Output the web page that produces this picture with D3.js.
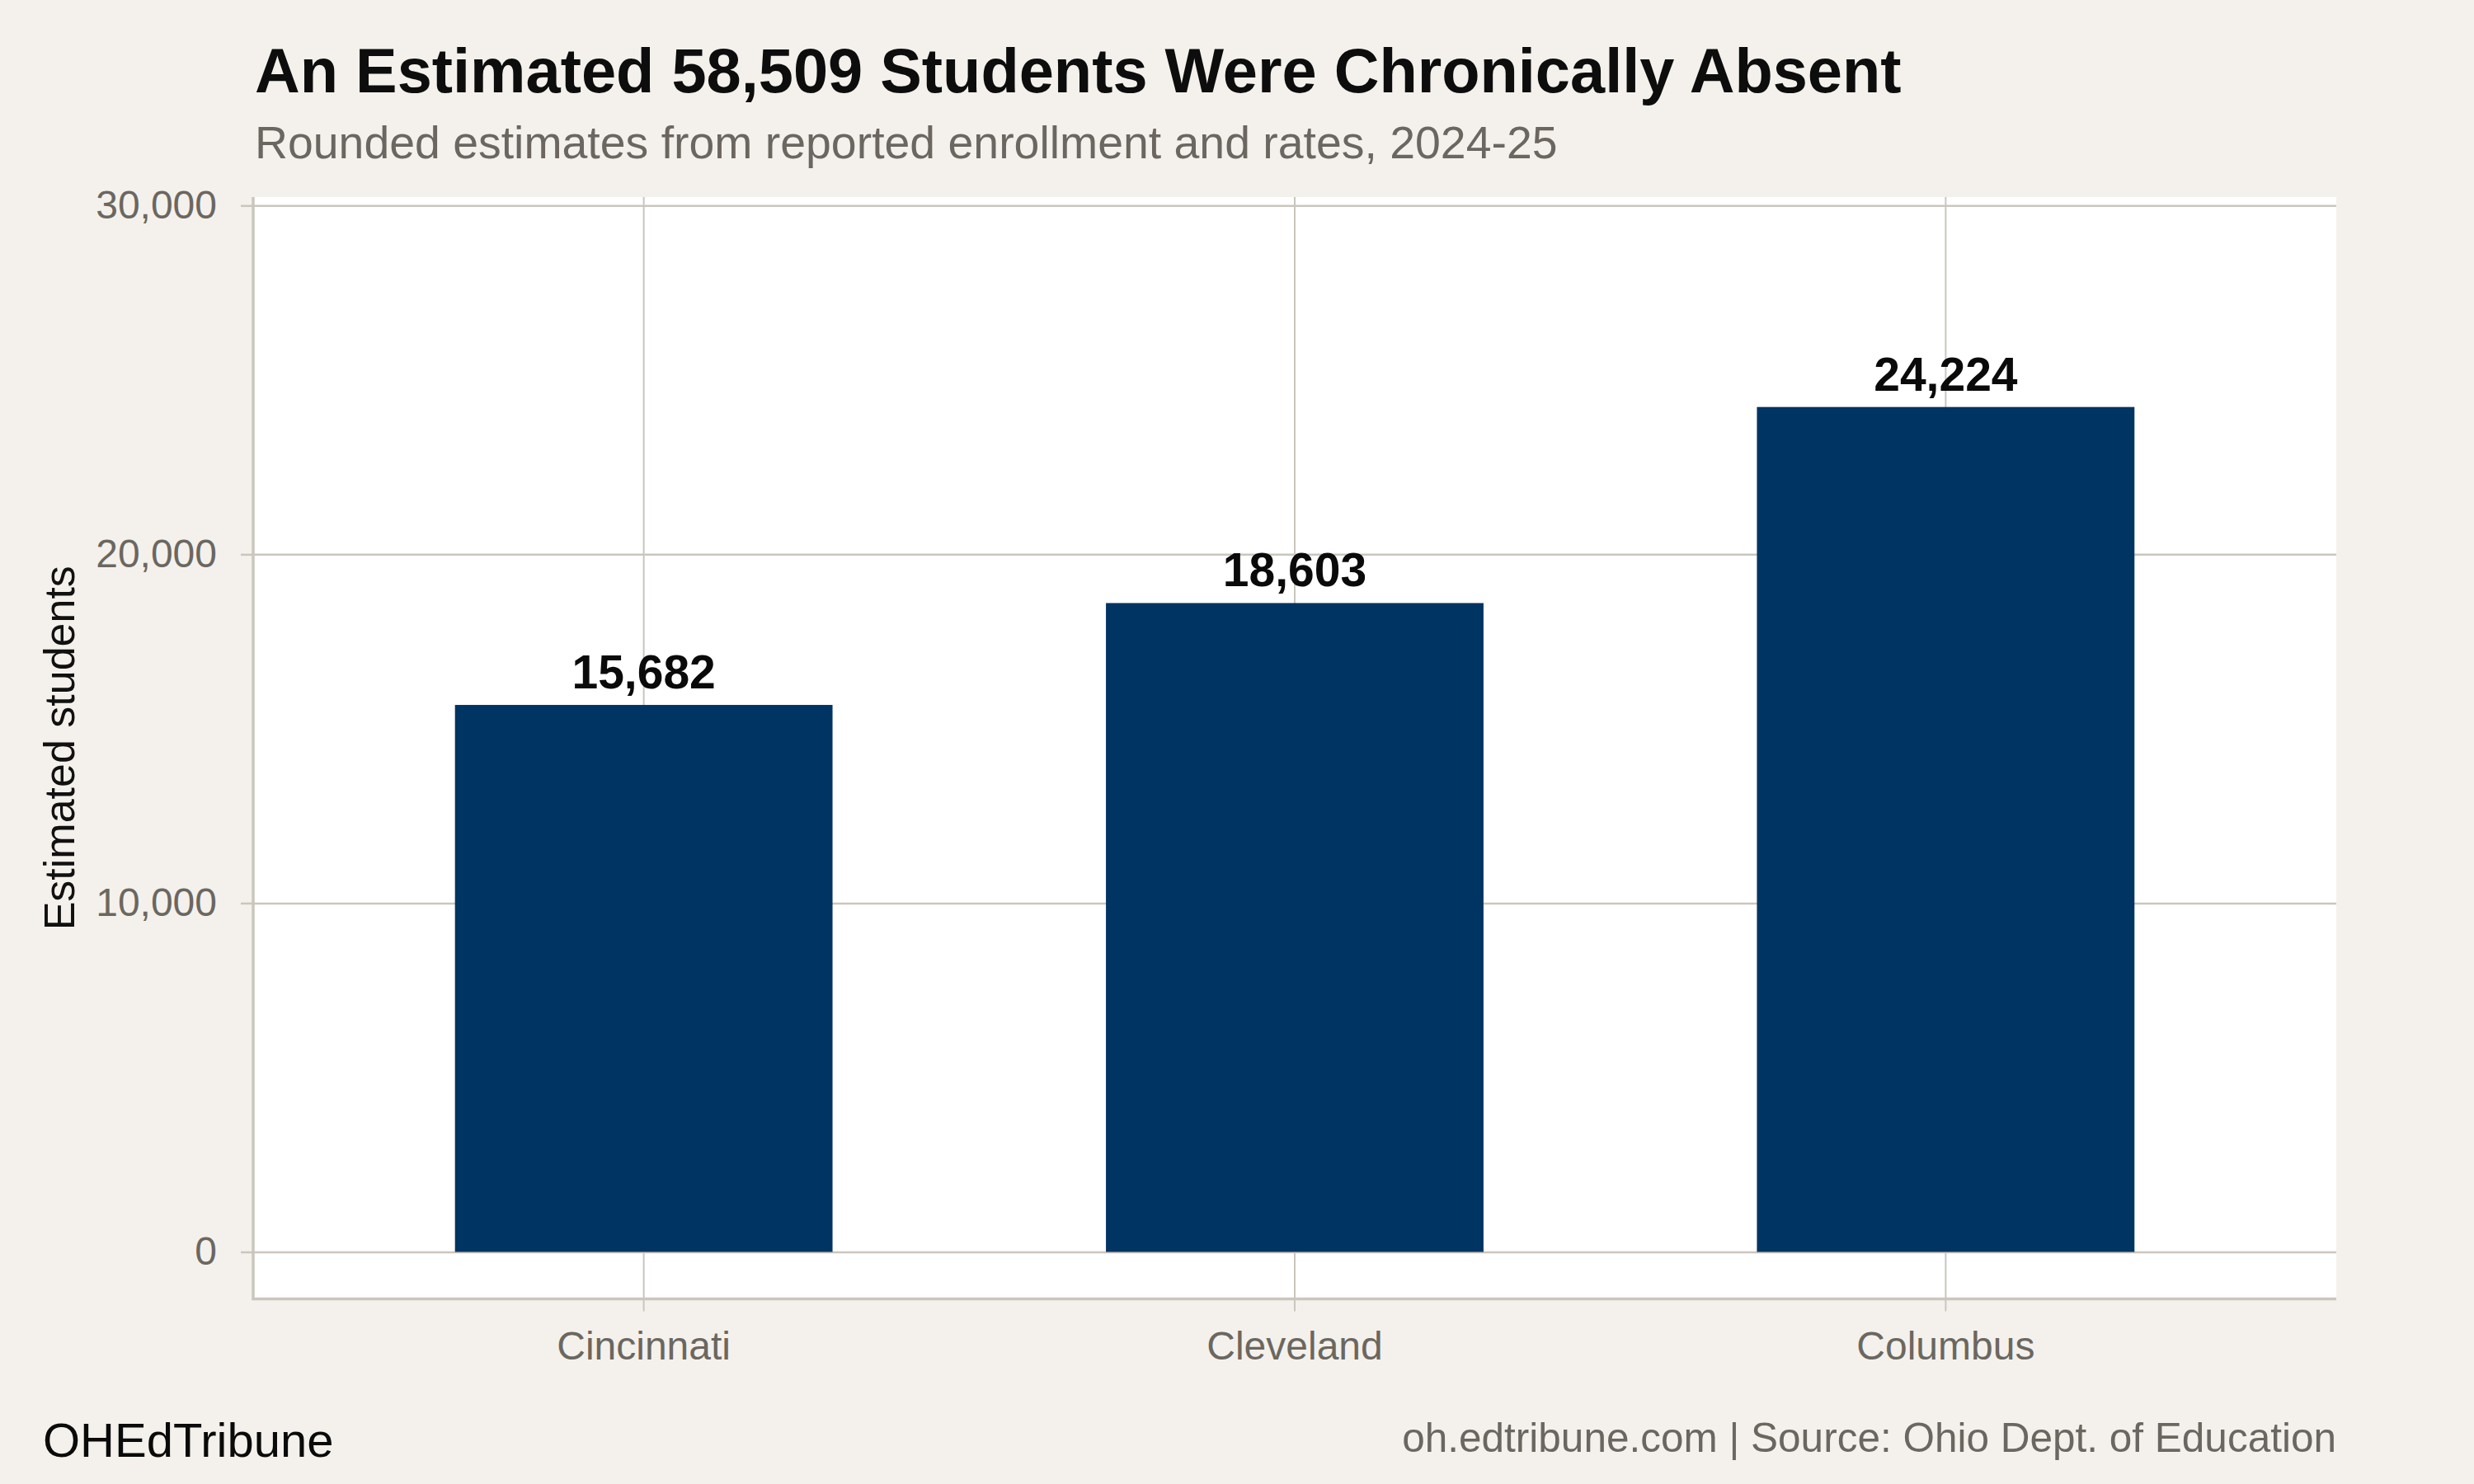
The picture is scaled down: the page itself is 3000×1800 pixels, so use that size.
<!DOCTYPE html>
<html lang="en">

<head>
    <meta charset="UTF-8">
    <title>Chronically absent students</title>
    <script src="https://d3js.org/d3.v7.min.js"></script>

    <style>
        body {
            margin: 0;
            background-color: #f4f1ec;
        }

        svg text {
            font-family: "Liberation Sans", Arial, Helvetica, sans-serif;
        }
    </style>

</head>

<body>
    <svg id="chart"></svg>

    <script>
        // data
        const cities = ['Cincinnati', 'Cleveland', 'Columbus'];
        const students = [15682, 18603, 24224];
        const yTicks = [0, 10000, 20000, 30000];

        const W = 3000, H = 1800;
        const panel = { left: 307, right: 2833, top: 239, bottom: 1575.5 };

        const bg = '#f4f1ec',
            grid = '#cbc6bd',
            bar = '#003462',
            grey = '#6b6760';

        const svg = d3.select('#chart')
            .attr('width', W)
            .attr('height', H);

        svg.append('rect')
            .attr('width', W)
            .attr('height', H)
            .attr('fill', bg);

        svg.append('rect')
            .attr('x', panel.left)
            .attr('y', panel.top)
            .attr('width', panel.right - panel.left)
            .attr('height', panel.bottom - panel.top)
            .attr('fill', '#fff');

        const x = d3.scaleBand()
            .domain(cities)
            .range([panel.left, panel.right])
            .paddingInner(0.42)
            .paddingOuter(0.31);

        const y = d3.scaleLinear()
            .domain([0, 30000])
            .range([1518.5, 249.3]);

        // horizontal gridlines
        const yGrid = svg.append('g')
            .attr('transform', `translate(${panel.left},0)`)
            .call(d3.axisLeft(y).tickValues(yTicks).tickSize(-(panel.right - panel.left)).tickFormat(''));
        yGrid.select('.domain').remove();
        yGrid.selectAll('line').attr('stroke', grid).attr('stroke-width', 2.5);

        // vertical gridlines
        const xGrid = svg.append('g')
            .attr('transform', `translate(0,${panel.bottom})`)
            .call(d3.axisBottom(x).tickSize(-(panel.bottom - panel.top)).tickFormat(''));
        xGrid.select('.domain').remove();
        xGrid.selectAll('line').attr('stroke', grid).attr('stroke-width', 2);

        // bars
        svg.append('g')
            .selectAll('rect')
            .data(cities)
            .join('rect')
            .attr('x', d => x(d))
            .attr('width', x.bandwidth())
            .attr('y', (d, i) => y(students[i]))
            .attr('height', (d, i) => y(0) - y(students[i]))
            .attr('fill', bar);

        // value labels
        svg.append('g')
            .selectAll('text')
            .data(cities)
            .join('text')
            .attr('x', d => x(d) + x.bandwidth() / 2)
            .attr('y', (d, i) => y(students[i]) - 20)
            .attr('text-anchor', 'middle')
            .attr('font-size', 57)
            .attr('font-weight', 'bold')
            .attr('fill', '#0a0a0a')
            .text((d, i) => d3.format(',')(students[i]));

        // y axis
        const yAxis = svg.append('g')
            .attr('transform', `translate(${panel.left},0)`)
            .call(d3.axisLeft(y).tickValues(yTicks).tickSize(15).tickPadding(29).tickFormat(d3.format(',')));
        yAxis.select('.domain').remove();
        yAxis.selectAll('line').attr('stroke', grid).attr('stroke-width', 2.5);
        yAxis.selectAll('text')
            .attr('font-size', 48)
            .attr('fill', grey)
            .attr('font-family', null);

        // x axis
        const xAxis = svg.append('g')
            .attr('transform', `translate(0,${panel.bottom})`)
            .call(d3.axisBottom(x).tickSize(15).tickPadding(24));
        xAxis.select('.domain').remove();
        xAxis.selectAll('line').attr('stroke', grid).attr('stroke-width', 2);
        xAxis.selectAll('text')
            .attr('font-size', 48)
            .attr('fill', grey)
            .attr('font-family', null);

        // axis lines
        svg.append('line')
            .attr('x1', panel.left).attr('x2', panel.left)
            .attr('y1', panel.top).attr('y2', panel.bottom + 1.5)
            .attr('stroke', grid).attr('stroke-width', 3.5);
        svg.append('line')
            .attr('x1', panel.left - 1.5).attr('x2', panel.right)
            .attr('y1', panel.bottom).attr('y2', panel.bottom)
            .attr('stroke', grid).attr('stroke-width', 3.5);

        svg.append('text')
            .attr('transform', `translate(90,${(panel.top + panel.bottom) / 2}) rotate(-90)`)
            .attr('text-anchor', 'middle')
            .attr('font-size', 52)
            .attr('fill', '#111')
            .text('Estimated students');

        // titles
        svg.append('text')
            .attr('x', 309).attr('y', 112)
            .attr('font-size', 75.8)
            .attr('font-weight', 'bold')
            .attr('fill', '#0d0d0d')
            .text('An Estimated 58,509 Students Were Chronically Absent');

        svg.append('text')
            .attr('x', 309).attr('y', 192)
            .attr('font-size', 55.4)
            .attr('fill', grey)
            .text('Rounded estimates from reported enrollment and rates, 2024-25');

        // footer
        svg.append('text')
            .attr('x', 52).attr('y', 1767)
            .attr('font-size', 58)
            .attr('fill', '#0a0a0a')
            .text('OHEdTribune');

        svg.append('text')
            .attr('x', panel.right).attr('y', 1761)
            .attr('text-anchor', 'end')
            .attr('font-size', 49.5)
            .attr('fill', grey)
            .text('oh.edtribune.com | Source: Ohio Dept. of Education');
    </script>

</body>

</html>
